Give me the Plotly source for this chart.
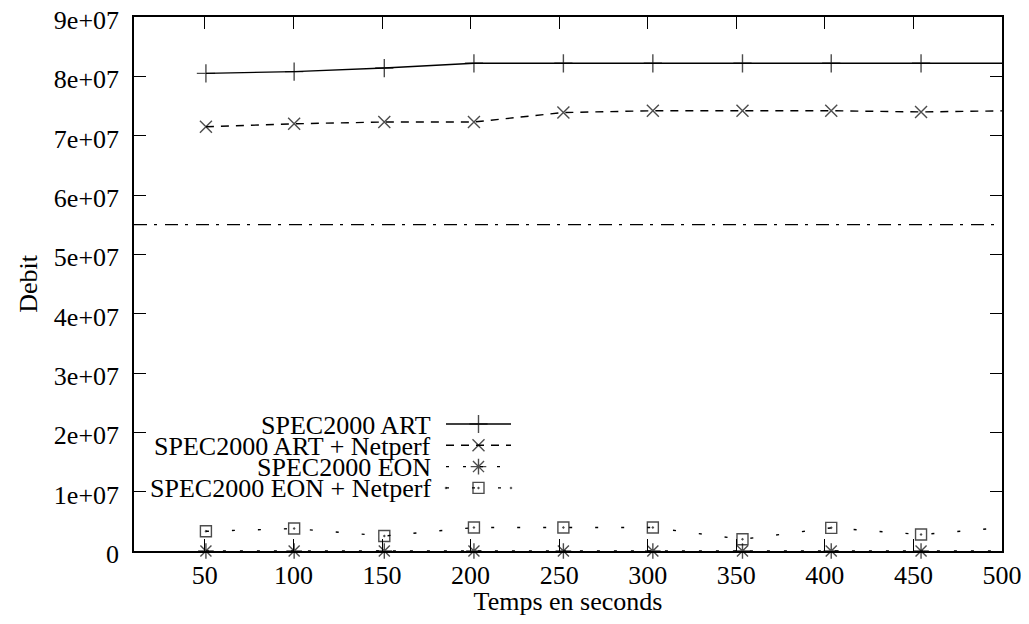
import plotly.graph_objects as go

# ---------------- data ----------------
times = [50.6, 100.4, 151.3, 201.9, 252.4, 302.9, 353.5, 403.6, 454.3, 504.8]
art = [8.05e7, 8.08e7, 8.14e7, 8.22e7, 8.22e7, 8.22e7, 8.22e7, 8.22e7, 8.22e7, 8.22e7]
art_netperf = [7.15e7, 7.20e7, 7.23e7, 7.23e7, 7.39e7, 7.42e7, 7.42e7, 7.42e7, 7.40e7, 7.42e7]
eon = [0, 0, 0, 0, 0, 0, 0, 0, 0, 0]
eon_netperf = [3.32e6, 3.78e6, 2.53e6, 3.95e6, 3.95e6, 3.95e6, 1.97e6, 3.90e6, 2.77e6, 4.05e6]
limit_x = [10, 500]
limit_y = [5.5e7, 5.5e7]

x_ticks = [50, 100, 150, 200, 250, 300, 350, 400, 450, 500]
y_ticks = [0, 1e7, 2e7, 3e7, 4e7, 5e7, 6e7, 7e7, 8e7, 9e7]
y_ticktext = ["0", "1e+07", "2e+07", "3e+07", "4e+07", "5e+07", "6e+07", "7e+07", "8e+07", "9e+07"]

series_names = ["SPEC2000 ART", "SPEC2000 ART + Netperf", "SPEC2000 EON", "SPEC2000 EON + Netperf"]

# ---------------- styles ----------------
FONT = "Liberation Serif"
FS = 26
KEY_FS = 26
OFF = 8                      # page body margin
W, H = 1029 - OFF, 624 - 2 * OFF
ML, MR, MT, MB = 126, 27, 9, 65

styles = [
    dict(dash="solid", symbol="cross-thin-open", size=13),
    dict(dash="8px,7px", symbol="x-thin-open", size=12),
    dict(dash="3px,14px", symbol="asterisk-open", size=13),
    dict(dash="3px,23px", symbol="square-open-dot", size=11),
]
values = [art, art_netperf, eon, eon_netperf]

fig = go.Figure()

n = len(times)
for name, vals, st in zip(series_names, values, styles):
    sizes = [st["size"]] * (n - 1) + [0]
    fig.add_trace(go.Scatter(
        x=times, y=vals, mode="lines+markers", name=name, showlegend=False,
        line=dict(color="black", width=1.4, dash=st["dash"]),
        marker=dict(symbol=st["symbol"], size=sizes, color="black",
                    line=dict(color="black", width=1.4)),
        cliponaxis=False,
    ))

fig.add_trace(go.Scatter(
    x=limit_x, y=limit_y, mode="lines", showlegend=False,
    line=dict(color="black", width=1.4, dash="13px,7px,3px,8px"),
))

# ---------------- custom gnuplot-style key (page-pixel overlay axes) ----------------
KEY_TEXT_RIGHT = 433
KEY_LINE_X0, KEY_LINE_X1 = 446, 511
KEY_ROW0, KEY_ROW_H = 424, 21.3
for i, (name, st) in enumerate(zip(series_names, styles)):
    ry = KEY_ROW0 + i * KEY_ROW_H
    mid = (KEY_LINE_X0 + KEY_LINE_X1) / 2
    fig.add_trace(go.Scatter(
        x=[KEY_LINE_X0, mid, KEY_LINE_X1], y=[ry, ry, ry], xaxis="x2", yaxis="y2",
        mode="lines+markers", showlegend=False, hoverinfo="skip",
        line=dict(color="black", width=1.4, dash=st["dash"]),
        marker=dict(symbol=st["symbol"], size=[0, st["size"], 0], color="black",
                    line=dict(color="black", width=1.4)),
    ))
    fig.add_annotation(x=KEY_TEXT_RIGHT, y=ry + 1, xref="x2", yref="y2", text=name,
                       showarrow=False, xanchor="right", yanchor="middle",
                       font=dict(family=FONT, size=KEY_FS, color="black"))

axis_common = dict(
    showline=True, linecolor="black", linewidth=1.5, mirror="ticks",
    ticks="inside", ticklen=12, tickwidth=1.2, tickcolor="black",
    showgrid=False, zeroline=False, automargin=False, ticklabeloverflow="allow",
    tickfont=dict(family=FONT, size=FS, color="black"),
)

fig.update_layout(
    width=W, height=H, autosize=False,
    margin=dict(l=ML, r=MR, t=MT, b=MB, pad=0),
    paper_bgcolor="white", plot_bgcolor="white",
    font=dict(family=FONT, size=FS, color="black"),
    xaxis=dict(range=limit_x, tickvals=x_ticks, ticklabelstandoff=0,
               title=dict(text="Temps en seconds", standoff=10,
                          font=dict(family=FONT, size=FS, color="black")),
               **axis_common),
    yaxis=dict(range=[0, 9e7], tickvals=y_ticks, ticktext=y_ticktext,
               ticklabelstandoff=8, ticklabelshift=3,
               title=dict(text="Debit", standoff=9,
                          font=dict(family=FONT, size=FS, color="black")),
               **axis_common),
    xaxis2=dict(overlaying="x", anchor="y2", range=[ML + OFF, W - MR + OFF],
                visible=False, fixedrange=True),
    yaxis2=dict(overlaying="y", anchor="x2", range=[H - MB + OFF, MT + OFF],
                visible=False, fixedrange=True),
)

fig.write_html("out.html")
